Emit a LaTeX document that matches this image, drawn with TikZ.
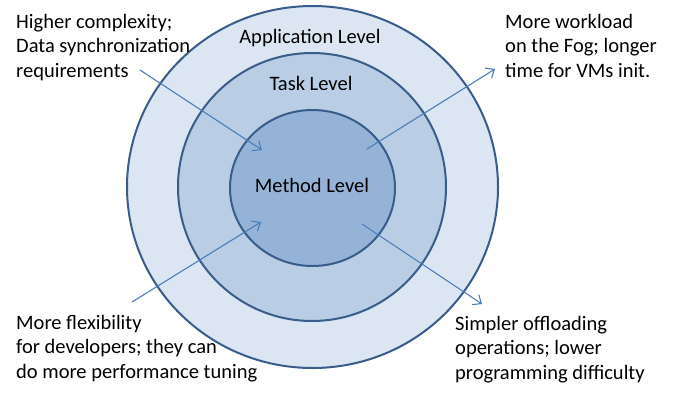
\documentclass[tikz,border=0pt]{standalone}
\usepackage{fontspec}
\setmainfont{Carlito}
\usetikzlibrary{arrows.meta}
\definecolor{ringA}{HTML}{DCE6F2}
\definecolor{ringB}{HTML}{B9CDE5}
\definecolor{ringC}{HTML}{95B3D7}
\definecolor{ringline}{HTML}{385D8A}
\definecolor{arrowblue}{HTML}{4A7EBB}
\begin{document}
\begin{tikzpicture}[x=1pt,y=-1pt,
  ring/.style={draw=ringline,line width=2pt},
  lvl/.style={font=\fontsize{20.5}{24}\selectfont,anchor=base,inner sep=0pt},
  note/.style={font=\fontsize{20.5}{24.5}\selectfont,align=left,anchor=base west,inner sep=0pt},
  conn/.style={draw=arrowblue,line width=1.1pt,-{Straight Barb[length=7pt,width=12pt,line width=1.1pt]}}]
\useasboundingbox (0,0) rectangle (685,392);
\fill[ringA] (312.5,187) ellipse [x radius=185.5,y radius=181];
\draw[ring] (312.5,187) ellipse [x radius=185.5,y radius=181];
\fill[ringB] (312,187) ellipse [x radius=134,y radius=134];
\draw[ring] (312,187) ellipse [x radius=134,y radius=134];
\fill[ringC] (312.5,188) ellipse [x radius=82.5,y radius=78];
\draw[ring] (312.5,188) ellipse [x radius=82.5,y radius=78];
\node[lvl] (app) at (310,43) {Application Level};
\node[lvl] (task) at (311,90) {Task Level};
\node[lvl] (meth) at (312,192) {Method Level};
\node[note] (tl) at (16,77) {Higher complexity;\\Data synchronization\\requirements};
\node[note] (tr) at (505,77) {More workload\\on the Fog; longer\\time for VMs init.};
\node[note] (bl) at (16,378) {More flexibility\\for developers; they can\\do more performance tuning};
\node[note] (br) at (455,379) {Simpler offloading\\operations; lower\\programming difficulty};
\coordinate (a1s) at (140,70);  \coordinate (a1e) at (262,150);
\coordinate (a2s) at (367,149); \coordinate (a2e) at (495,69);
\coordinate (a3s) at (132,302); \coordinate (a3e) at (261,222);
\coordinate (a4s) at (362,224); \coordinate (a4e) at (482,304);
\draw[conn] (a1s) -- (a1e);
\draw[conn] (a2s) -- (a2e);
\draw[conn] (a3s) -- (a3e);
\draw[conn] (a4s) -- (a4e);
\end{tikzpicture}
\end{document}
